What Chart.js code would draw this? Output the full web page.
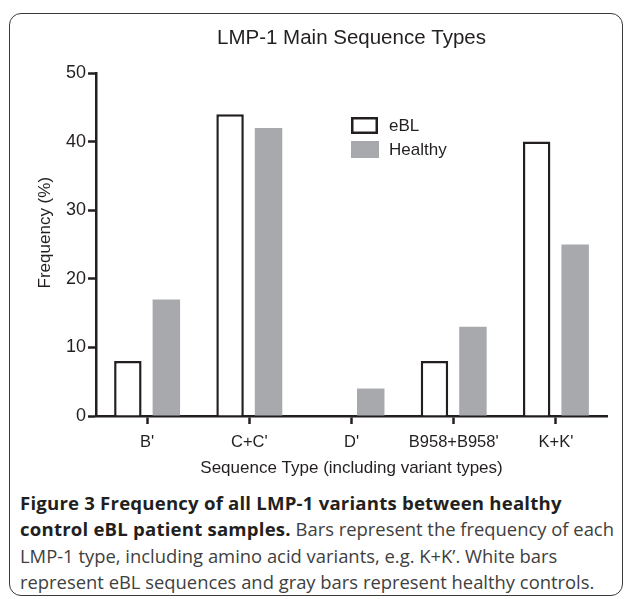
<!DOCTYPE html>
<html>
<head>
<meta charset="utf-8">
<script src="https://cdn.jsdelivr.net/npm/chart.js@4/dist/chart.umd.min.js"></script>
<style>
  html, body { margin: 0; padding: 0; background: #fff; }
  body { width: 629px; height: 599px; position: relative; overflow: hidden; }
  #frame { position: absolute; left: 9px; top: 13px; width: 614px; height: 583px;
           border: 1.5px solid #3a3a3a; border-radius: 12px; box-sizing: border-box; }
  #wrap { position: absolute; left: 0; top: 0; width: 629px; height: 480px; }
  #caption { position: absolute; left: 20px; top: 490px; width: 605px;
             font-family: "Open Sans", sans-serif; font-size: 18.4px; line-height: 26.3px;
             color: #404040; white-space: nowrap; }
  #caption b { color: #231f20; font-weight: 700; font-size: 18.6px; letter-spacing: 0.2px; }
</style>
</head>
<body>
<div id="frame"></div>
<div id="wrap"><canvas id="c" width="629" height="480"></canvas></div>
<div id="caption">
  <b>Figure 3 Frequency of all LMP-1 variants between healthy</b><br>
  <b>control eBL patient samples.</b> Bars represent the frequency of each<br>
  LMP-1 type, including amino acid variants, e.g. K+K’. White bars<br>
  represent eBL sequences and gray bars represent healthy controls.
</div>
<script>
const categories = ["B'", "C+C'", "D'", "B958+B958'", "K+K'"];
const eblValues = [8, 44, 0, 8, 40];
const healthyValues = [17, 42, 4, 13, 25];
const seriesNames = ["eBL", "Healthy"];
const yMin = 0, yMax = 50, yStep = 10;

const INK = '#231f20';
const GRAY = '#a7a9ac';
const FONT = '"Liberation Sans", Arial, Helvetica, sans-serif';

const legendPlugin = {
  id: 'boxLegend',
  afterDraw(chart) {
    const ctx = chart.ctx;
    const a = chart.chartArea;
    const bx = a.left + 255, bw = 27, bh = 17;
    const rows = [a.top + 44, a.top + 68];
    ctx.save();
    ctx.font = '17px ' + FONT;
    ctx.textBaseline = 'middle';
    ctx.textAlign = 'left';
    chart.data.datasets.forEach((ds, i) => {
      const y = rows[i];
      if (ds.borderWidth > 0) {
        ctx.fillStyle = ds.backgroundColor;
        ctx.fillRect(bx, y, bw, bh);
        ctx.lineWidth = ds.borderWidth;
        ctx.strokeStyle = ds.borderColor;
        const h = ds.borderWidth / 2;
        ctx.strokeRect(bx + h, y + h, bw - 2 * h, bh - 2 * h);
      } else {
        ctx.fillStyle = ds.backgroundColor;
        ctx.fillRect(bx, y, bw + 1, bh);
      }
      ctx.fillStyle = INK;
      ctx.fillText(ds.label, bx + 38, y + bh / 2 + 0.5);
    });
    ctx.restore();
  }
};

new Chart(document.getElementById('c'), {
  type: 'bar',
  data: {
    labels: categories,
    datasets: [
      { label: seriesNames[0], data: eblValues, backgroundColor: '#ffffff',
        borderColor: INK, borderWidth: 2.5, borderSkipped: 'start' },
      { label: seriesNames[1], data: healthyValues, backgroundColor: GRAY,
        borderWidth: 0 }
    ]
  },
  options: {
    responsive: false,
    animation: false,
    devicePixelRatio: 1,
    categoryPercentage: 0.753,
    barPercentage: 0.714,
    layout: { padding: { top: 0, left: 0, right: 22, bottom: 0 } },
    plugins: {
      legend: { display: false },
      tooltip: { enabled: false },
      title: {
        display: true, text: 'LMP-1 Main Sequence Types', fullSize: false,
        color: INK, font: { family: FONT, size: 20.5, weight: 'normal' },
        padding: { top: 26, bottom: 22.4 }
      }
    },
    scales: {
      x: {
        offset: true,
        grid: { display: true, offset: false, drawOnChartArea: false, drawTicks: true,
                tickLength: 8, tickWidth: 2.5, tickColor: INK },
        border: { display: true, color: INK, width: 2.5 },
        ticks: { color: INK, font: { family: FONT, size: 16.5 }, padding: 9, maxRotation: 0, autoSkip: false },
        title: { display: true, text: 'Sequence Type (including variant types)', color: INK,
                 font: { family: FONT, size: 17 }, padding: { top: 0, bottom: 1 } },
        afterFit(s) { s.height = 64; }
      },
      y: {
        min: yMin, max: yMax,
        grid: { display: true, drawOnChartArea: false, drawTicks: true,
                tickLength: 8, tickWidth: 2.5, tickColor: INK },
        border: { display: true, color: INK, width: 2.5 },
        ticks: { stepSize: yStep, color: INK, font: { family: FONT, size: 18 }, padding: 2 },
        title: { display: true, text: '\u00a0\u00a0\u00a0\u00a0\u00a0Frequency (%)', color: INK,
                 font: { family: FONT, size: 17 }, padding: { top: 35, bottom: 0 } },
        afterFit(s) { s.width = 96; }
      }
    }
  },
  plugins: [legendPlugin]
});
</script>
</body>
</html>
